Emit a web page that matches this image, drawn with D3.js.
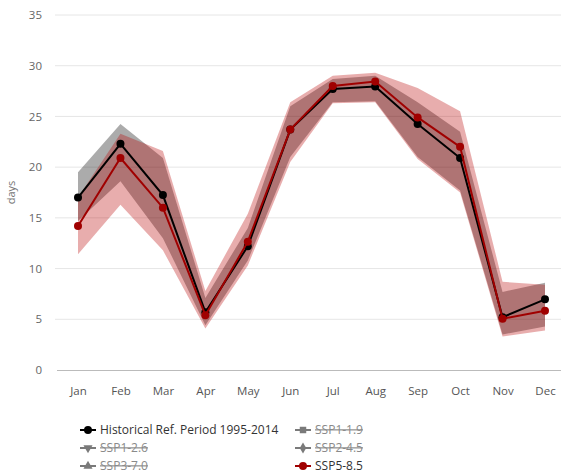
<!DOCTYPE html>
<html>
<head>
<meta charset="utf-8">
<script src="https://cdn.jsdelivr.net/npm/d3@7"></script>
<style>
  html, body { margin: 0; padding: 0; background: #fff; }
  svg { display: block; font-family: "Segoe UI", "Open Sans", "Noto Sans", sans-serif; }
</style>
</head>
<body>
<svg id="chart" width="561" height="475"></svg>
<script>
// Monthly number of days, historical reference vs. SSP5-8.5 projection
const months = ["Jan", "Feb", "Mar", "Apr", "May", "Jun", "Jul", "Aug", "Sep", "Oct", "Nov", "Dec"];
const yTicks = [0, 5, 10, 15, 20, 25, 30, 35];

const histMean = [17.0, 22.3, 17.25, 5.7, 12.2, 23.7, 27.7, 27.95, 24.25, 20.9, 5.2, 6.97];
const histLow  = [14.7, 18.6, 13.0, 4.4, 10.8, 21.0, 26.4, 26.5, 21.0, 17.7, 3.5, 4.3];
const histHigh = [19.5, 24.25, 20.9, 7.1, 14.0, 26.0, 28.7, 29.0, 26.4, 23.5, 7.7, 8.6];

const ssp585Mean = [14.2, 20.9, 16.0, 5.4, 12.65, 23.7, 28.0, 28.45, 24.9, 22.0, 5.05, 5.85];
const ssp585Low  = [11.4, 16.3, 11.8, 4.1, 10.3, 20.5, 26.3, 26.4, 20.8, 17.5, 3.3, 3.9];
const ssp585High = [17.0, 23.3, 21.6, 7.8, 15.4, 26.4, 29.0, 29.3, 27.8, 25.5, 8.7, 8.4];

const legendItems = [
  { name: "Historical Ref. Period 1995-2014", symbol: "circle", visible: true, color: "#000000" },
  { name: "SSP1-1.9", symbol: "square", visible: false, color: "#7a7a7a" },
  { name: "SSP1-2.6", symbol: "triangleDown", visible: false, color: "#7a7a7a" },
  { name: "SSP2-4.5", symbol: "diamond", visible: false, color: "#7a7a7a" },
  { name: "SSP3-7.0", symbol: "triangle", visible: false, color: "#7a7a7a" },
  { name: "SSP5-8.5", symbol: "circle", visible: true, color: "#a00000" }
];

const svg = d3.select("#chart");
const plot = { left: 55, right: 561, top: 15, bottom: 370 };
const font = "\"Segoe UI\", \"Open Sans\", sans-serif";

const x = d3.scalePoint().domain(months).range([78, 545]);
const y = d3.scaleLinear().domain([0, 35]).range([plot.bottom, plot.top]);

// gridlines
svg.append("g")
  .selectAll("line")
  .data(yTicks.filter(d => d > 0))
  .join("line")
  .attr("x1", plot.left).attr("x2", plot.right)
  .attr("y1", d => y(d)).attr("y2", d => y(d))
  .attr("stroke", "#e6e6e6").attr("stroke-width", 1);

// y axis labels
const yAxis = svg.append("g")
  .attr("transform", `translate(${plot.left},0)`)
  .call(d3.axisLeft(y).tickValues(yTicks).tickSize(0).tickPadding(13));
yAxis.select(".domain").remove();
yAxis.selectAll("text").attr("fill", "#666").style("font-size", "11.5px").style("font-family", font);

// x axis
const xAxis = svg.append("g")
  .attr("transform", `translate(0,${plot.bottom})`)
  .call(d3.axisBottom(x).tickSize(0).tickPadding(17));
xAxis.select(".domain").remove();
xAxis.selectAll("text").attr("fill", "#555").style("font-size", "11.5px").style("font-family", font);
svg.append("line")
  .attr("x1", plot.left + 2).attr("x2", plot.right)
  .attr("y1", plot.bottom + 0.5).attr("y2", plot.bottom + 0.5)
  .attr("stroke", "#bbbbbb").attr("stroke-width", 1);

// axis title
svg.append("text")
  .attr("transform", `translate(15,${y(17.5)}) rotate(-90)`)
  .attr("text-anchor", "middle")
  .attr("fill", "#777")
  .style("font-size", "11px")
  .text("days");

const area = d3.area()
  .x((d, i) => x(months[i]))
  .y0(d => y(d[0]))
  .y1(d => y(d[1]));
const line = d3.line()
  .x((d, i) => x(months[i]))
  .y(d => y(d));

// ranges
svg.append("path")
  .datum(histLow.map((v, i) => [v, histHigh[i]]))
  .attr("d", area)
  .attr("fill", "#000000").attr("fill-opacity", 0.33);
svg.append("path")
  .datum(ssp585Low.map((v, i) => [v, ssp585High[i]]))
  .attr("d", area)
  .attr("fill", "#b80000").attr("fill-opacity", 0.32);

// mean lines and markers
function drawSeries(values, color) {
  svg.append("path")
    .datum(values)
    .attr("d", line)
    .attr("fill", "none")
    .attr("stroke", color)
    .attr("stroke-width", 2);
  svg.append("g")
    .selectAll("circle")
    .data(values)
    .join("circle")
    .attr("cx", (d, i) => x(months[i]))
    .attr("cy", d => y(d))
    .attr("r", 4)
    .attr("fill", color);
}
drawSeries(histMean, "#000000");
drawSeries(ssp585Mean, "#a00000");

// legend
const symbolTypes = {
  circle: d3.symbolCircle,
  square: d3.symbolSquare,
  triangle: d3.symbolTriangle,
  triangleDown: d3.symbolTriangle,
  diamond: d3.symbolDiamond
};
const legend = svg.append("g");
const colX = [88, 303];
const rowY = [430, 448, 466];
legendItems.forEach((item, k) => {
  const col = k % 2, row = Math.floor(k / 2);
  const cx = colX[col], cy = rowY[row];
  const g = legend.append("g").attr("transform", `translate(${cx},${cy})`);
  g.append("line")
    .attr("x1", -8).attr("x2", 8).attr("y1", 0).attr("y2", 0)
    .attr("stroke", item.color).attr("stroke-width", 2);
  const size = item.symbol === "circle" ? 50 : (item.symbol === "square" ? 42 : 36);
  g.append("path")
    .attr("d", d3.symbol().type(symbolTypes[item.symbol]).size(size)())
    .attr("transform", item.symbol === "triangleDown" ? "rotate(180)" : null)
    .attr("fill", item.color);
  g.append("text")
    .attr("x", 12).attr("y", 0).attr("dy", "0.35em")
    .attr("fill", item.visible ? "#333" : "#8a8a8a")
    .style("font-size", "12px")
    .style("text-decoration", item.visible ? "none" : "line-through")
    .text(item.name);
});
</script>
</body>
</html>
